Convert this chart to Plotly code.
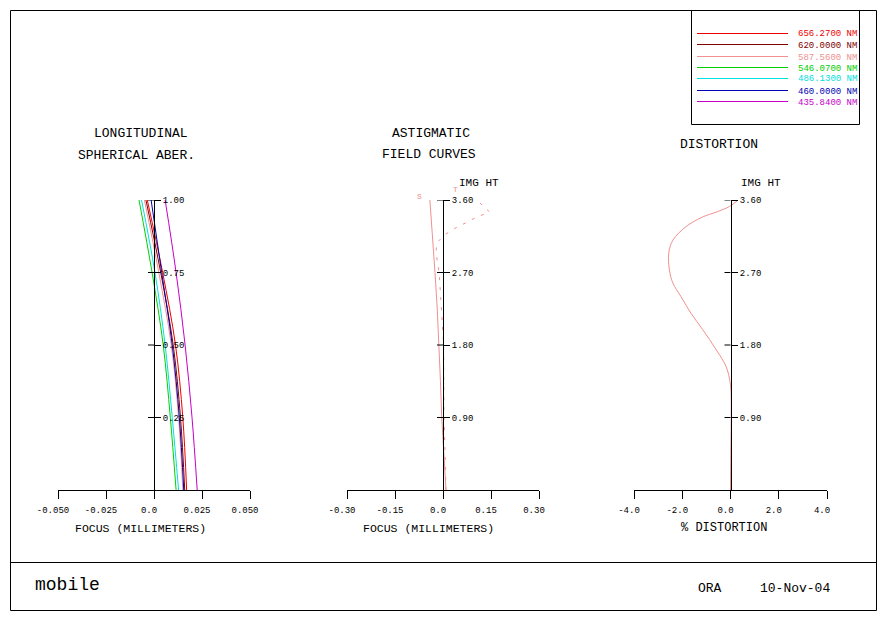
import plotly.graph_objects as go

# ---------------- data ----------------
wavelength_labels = ["656.2700 NM", "620.0000 NM", "587.5600 NM", "546.0700 NM",
                     "486.1300 NM", "460.0000 NM", "435.8400 NM"]
wavelength_colors = ["#ee0000", "#800000", "#f09090", "#00d000",
                     "#00e0e0", "#0000b0", "#c800c8"]

# Longitudinal spherical aberration: relative pupil vs focus (mm)
pupil = [0.0, 0.25, 0.50, 0.75, 1.00]
lsa_656 = [0.0170, 0.0150, 0.0112, 0.0045, -0.0035]
lsa_620 = [0.0160, 0.0138, 0.0100, 0.0035, -0.0042]
lsa_587 = [0.0150, 0.0128, 0.0090, 0.0025, -0.0050]
lsa_546 = [0.0115, 0.0085, 0.0048, -0.0010, -0.0078]
lsa_486 = [0.0128, 0.0095, 0.0058, 0.0005, -0.0065]
lsa_460 = [0.0155, 0.0132, 0.0095, 0.0040, -0.0015]
lsa_435 = [0.0225, 0.0198, 0.0162, 0.0115, 0.0058]
lsa_series = [lsa_656, lsa_620, lsa_587, lsa_546, lsa_486, lsa_460, lsa_435]

lsa_xticks = [-0.050, -0.025, 0.0, 0.025, 0.050]
lsa_xticktext = ["-0.050", "-0.025", "0.0", "0.025", "0.050"]
lsa_yticks = [0.25, 0.50, 0.75, 1.00]
lsa_yticktext = ["0.25", "0.50", "0.75", "1.00"]

# Astigmatic field curves: image height vs focus (mm)
sag_ht = [0.0, 0.45, 0.9, 1.35, 1.8, 2.25, 2.7, 3.15, 3.6]
sag_focus = [0.0094, 0.0020, -0.0040, -0.0080, -0.0120, -0.0180, -0.0250, -0.0330, -0.0410]
tan_ht = [0.0, 0.9, 1.8, 2.4, 2.7, 2.95, 3.07, 3.17, 3.25, 3.33, 3.39, 3.45, 3.56]
tan_focus = [0.0094, 0.0032, 0.0020, -0.0060, -0.0120, -0.0220, -0.0190, 0.0060,
             0.0380, 0.0780, 0.1060, 0.1460, 0.1160]

fc_xticks = [-0.30, -0.15, 0.0, 0.15, 0.30]
fc_xticktext = ["-0.30", "-0.15", "0.0", "0.15", "0.30"]
ht_yticks = [0.90, 1.80, 2.70, 3.60]
ht_yticktext = ["0.90", "1.80", "2.70", "3.60"]

# Distortion: image height vs % distortion
dist_ht = [0.0, 0.45, 0.9, 1.30, 1.53, 1.74, 1.99, 2.19, 2.40, 2.57, 2.73, 2.94,
           3.10, 3.27, 3.39, 3.45, 3.52, 3.60]
dist_pct = [0.0, 0.01, 0.03, 0.0, -0.18, -0.59, -1.15, -1.63, -2.05, -2.39, -2.53, -2.56,
            -2.39, -1.84, -1.15, -0.59, -0.04, 0.32]

dist_xticks = [-4.0, -2.0, 0.0, 2.0, 4.0]
dist_xticktext = ["-4.0", "-2.0", "0.0", "2.0", "4.0"]

# ---------------- layout helpers ----------------
W, H = 883, 619
MONO = "Liberation Mono"


def px(x):
    return x / W


def py(y):
    return 1 - y / H


fig = go.Figure()

for vals, col, name in zip(lsa_series, wavelength_colors, wavelength_labels):
    fig.add_trace(go.Scatter(x=vals, y=pupil, mode="lines", name=name,
                             line=dict(color=col, width=1, shape="spline"),
                             xaxis="x", yaxis="y", showlegend=False))

fig.add_trace(go.Scatter(x=sag_focus, y=sag_ht, mode="lines", name="S",
                         line=dict(color=wavelength_colors[2], width=1),
                         xaxis="x2", yaxis="y2", showlegend=False))
fig.add_trace(go.Scatter(x=tan_focus, y=tan_ht, mode="lines", name="T",
                         line=dict(color=wavelength_colors[2], width=1, dash="3px,7px"),
                         xaxis="x2", yaxis="y2", showlegend=False))

fig.add_trace(go.Scatter(x=dist_pct, y=dist_ht, mode="lines", name="distortion",
                         line=dict(color=wavelength_colors[2], width=1, shape="spline"),
                         xaxis="x3", yaxis="y3", showlegend=False))

tickfont = dict(family=MONO, size=9, color="black")


def xax(domain, rng, tv, tt, anchor):
    return dict(domain=domain, range=rng, anchor=anchor, showline=True,
                linecolor="black", linewidth=1, ticks="outside", ticklen=8,
                tickcolor="black", tickwidth=1, tickvals=tv, ticktext=tt,
                showgrid=False, zeroline=False, tickfont=tickfont,
                ticklabelshift=-5, ticklabelstandoff=3, fixedrange=True,
                automargin=False)


def yax(rng, tv, tt, pos):
    return dict(domain=[py(490), py(200)], range=rng, anchor="free", position=pos,
                side="right", showline=True, linecolor="black", linewidth=1,
                ticks="outside", ticklen=6, tickcolor="black", tickwidth=1,
                tickvals=tv, ticktext=tt, showgrid=False, zeroline=False,
                tickfont=tickfont, fixedrange=True, automargin=False)


fig.update_layout(
    template="none",
    width=W, height=H, margin=dict(l=0, r=0, t=0, b=0, pad=0), autosize=False,
    showlegend=False,
    paper_bgcolor="white", plot_bgcolor="rgba(0,0,0,0)",
    xaxis=xax([px(58), px(250)], [-0.05, 0.05], lsa_xticks, lsa_xticktext, "y"),
    yaxis=yax([0, 1.0], lsa_yticks, lsa_yticktext, px(154)),
    xaxis2=xax([px(347), px(539)], [-0.30, 0.30], fc_xticks, fc_xticktext, "y2"),
    yaxis2=yax([0, 3.6], ht_yticks, ht_yticktext, px(443)),
    xaxis3=xax([px(634), px(827)], [-4.0, 4.0], dist_xticks, dist_xticktext, "y3"),
    yaxis3=yax([0, 3.6], ht_yticks, ht_yticktext, px(731)),
)

shapes = []
# left halves of the y ticks
for xr, yr, tv in (("x", "y", lsa_yticks), ("x2", "y2", ht_yticks), ("x3", "y3", ht_yticks)):
    for t in tv:
        shapes.append(dict(type="line", xref=xr, yref=yr, xsizemode="pixel", xanchor=0,
                           x0=-6, x1=0, y0=t, y1=t, line=dict(color="black", width=1)))

# frame
shapes.append(dict(type="rect", xref="paper", yref="paper", x0=px(10.5), x1=px(876.5),
                   y0=py(610.5), y1=py(10.5), line=dict(color="black", width=1)))
shapes.append(dict(type="line", xref="paper", yref="paper", x0=px(10.5), x1=px(876.5),
                   y0=py(562.5), y1=py(562.5), line=dict(color="black", width=1)))
# legend box
shapes.append(dict(type="rect", xref="paper", yref="paper", x0=px(691.5), x1=px(859.5),
                   y0=py(124.5), y1=py(10.5), line=dict(color="black", width=1)))

annotations = []
for i, (lab, col) in enumerate(zip(wavelength_labels, wavelength_colors)):
    yy = round(33 + i * 11.3) + 0.5
    shapes.append(dict(type="line", xref="paper", yref="paper", x0=px(697), x1=px(788),
                       y0=py(yy), y1=py(yy), line=dict(color=col, width=1)))
    annotations.append(dict(text=lab, xref="paper", yref="paper", x=px(859), y=py(yy + 1),
                            xanchor="right", yanchor="middle", showarrow=False,
                            font=dict(family=MONO, size=9, color=col)))


def txt(s, x, y, size, anchor="center"):
    annotations.append(dict(text=s, xref="paper", yref="paper", x=px(x), y=py(y),
                            xanchor=anchor, yanchor="middle", showarrow=False,
                            font=dict(family=MONO, size=size, color="black")))


txt("LONGITUDINAL", 140.5, 133, 13)
txt("SPHERICAL ABER.", 136, 155, 13)
txt("ASTIGMATIC", 430.5, 133, 13)
txt("FIELD CURVES", 428.5, 154, 13)
txt("DISTORTION", 718.5, 144, 13)
txt("IMG HT", 479, 183, 11)
txt("IMG HT", 761, 183, 11)
txt("FOCUS (MILLIMETERS)", 140, 528, 11.5)
txt("FOCUS (MILLIMETERS)", 428.5, 528, 11.5)
txt("% DISTORTION", 723.5, 528, 12)
txt("mobile", 33, 585, 18, "left")
txt("ORA", 710, 588, 13)
txt("10-Nov-04", 795, 588, 13)

# S / T labels at the curve ends
annotations.append(dict(text="S", xref="x2", yref="y2", x=sag_focus[-1], y=sag_ht[-1],
                        xshift=-10, yshift=4, showarrow=False,
                        font=dict(family=MONO, size=8, color=wavelength_colors[2])))
annotations.append(dict(text="T", xref="x2", yref="y2", x=tan_focus[-1], y=tan_ht[-1],
                        xshift=-25, yshift=14, showarrow=False,
                        font=dict(family=MONO, size=8, color=wavelength_colors[2])))

fig.update_layout(shapes=shapes, annotations=annotations)
fig.write_html("out.html")
